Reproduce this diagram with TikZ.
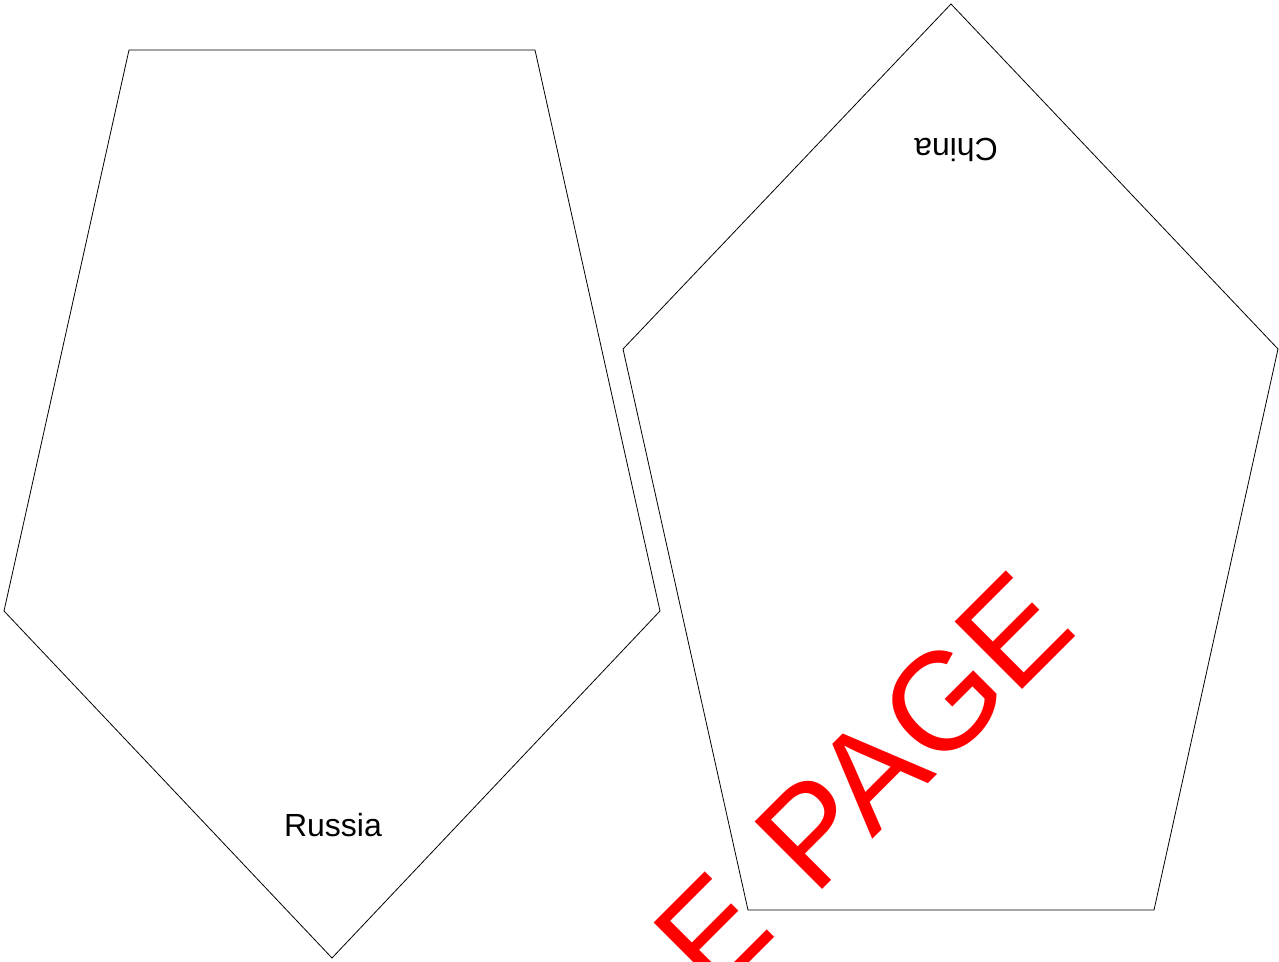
\documentclass[tikz,border=0pt]{standalone}
\usepackage{fontspec}
\setmainfont{Liberation Sans}
\tikzset{
  outline/.style={draw=black, line width=0.6pt, line join=miter},
  country/.style={font=\fontsize{24}{28}\selectfont, inner sep=0pt},
  stamp/.style={text=red, font=\fontsize{104}{110}\selectfont, inner sep=0pt, rotate=45, anchor=base east}
}
\begin{document}
\begin{tikzpicture}[x=0.75pt, y=-0.75pt]
  \useasboundingbox (0,0) rectangle (1279,962);
  % left pentagon
  \coordinate (l1) at (129,50);
  \coordinate (l2) at (535,50);
  \coordinate (l3) at (660,611);
  \coordinate (l4) at (332,958);
  \coordinate (l5) at (4,611);
  \draw[outline] (l1) -- (l2) -- (l3) -- (l4) -- (l5) -- cycle;
  % right pentagon
  \coordinate (r1) at (951,4);
  \coordinate (r2) at (1278,349);
  \coordinate (r3) at (1154,910);
  \coordinate (r4) at (748,910);
  \coordinate (r5) at (623,349);
  \draw[outline] (r1) -- (r2) -- (r3) -- (r4) -- (r5) -- cycle;
  % labels
  \node[country] (russia) at (333,825) {Russia};
  \node[country, rotate=180] (china) at (956,150) {China};
  % watermark
  \node[stamp] (wm) at (1080,632) {SAMPLE\kern9pt\ PAGE};
\end{tikzpicture}
\end{document}
